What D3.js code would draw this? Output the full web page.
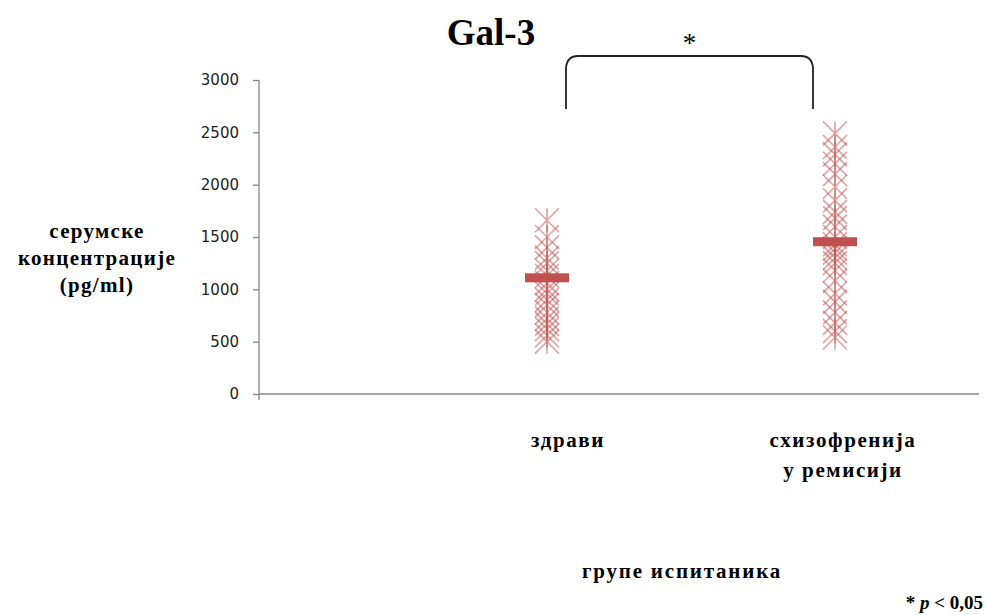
<!DOCTYPE html>
<html>
<head>
<meta charset="utf-8">
<script src="https://cdn.jsdelivr.net/npm/d3@7"></script>
<style>
  body { margin: 0; background: #fff; }
  .lbl { font-family: "Liberation Serif", "Times New Roman", serif; font-weight: bold; fill: #000; }
</style>
</head>
<body>
<div id="chart"></div>
<script>
// data
var groups = ["здрави", "схизофренија у ремисији"];
var healthy = [1660, 1500, 1400, 1300, 1250, 1180, 1130, 1060, 1000, 960, 900, 850,
               780, 720, 670, 620, 560, 500];
var schizo = [2490, 2360, 2290, 2200, 2100, 1980, 1850, 1740, 1680, 1600, 1500, 1430,
              1390, 1350, 1300, 1250, 1180, 1080, 960, 880, 780, 680, 600, 540];
var means = [1110, 1455];
var yTicks = [0, 500, 1000, 1500, 2000, 2500, 3000];

var width = 986, height = 615;

var svg = d3.select("#chart")
  .append("svg")
    .attr("width", width)
    .attr("height", height);

// scales
var x = d3.scaleLinear().domain([0, 2.5]).range([259, 979]);
var y = d3.scaleLinear().domain([0, 3000]).range([394, 80]);

// y axis
var yAxis = svg.append("g")
  .attr("transform", "translate(" + x(0) + ",0)")
  .call(d3.axisLeft(y).tickValues(yTicks).tickSize(6).tickSizeOuter(0).tickPadding(14)
        .tickFormat(d3.format("d")));
yAxis.select(".domain").remove();
yAxis.selectAll(".tick line").attr("stroke", "#868686").attr("stroke-width", 1.3);
yAxis.selectAll(".tick text")
  .attr("fill", "#222")
  .style("font-family", "DejaVu Sans, sans-serif")
  .style("font-size", "15px");

svg.append("line")
  .attr("x1", x(0)).attr("x2", x(0))
  .attr("y1", y(3000)).attr("y2", y(0) + 6)
  .attr("stroke", "#868686").attr("stroke-width", 1.3);

// x axis line
svg.append("line")
  .attr("x1", x(0)).attr("x2", x(2.5))
  .attr("y1", y(0)).attr("y2", y(0))
  .attr("stroke", "#868686").attr("stroke-width", 1.5);

// points as star markers (X plus vertical bar)
var pts = [];
healthy.forEach(function(v) { pts.push({g: 1, v: v}); });
schizo.forEach(function(v) { pts.push({g: 2, v: v}); });

var s = 12;
svg.append("g").selectAll("path")
  .data(pts)
  .enter()
  .append("path")
    .attr("d", function(d) {
      var cx = x(d.g), cy = y(d.v);
      return "M" + (cx - s) + "," + (cy - s) + "L" + (cx + s) + "," + (cy + s) +
             "M" + (cx + s) + "," + (cy - s) + "L" + (cx - s) + "," + (cy + s) +
             "M" + cx + "," + (cy - s) + "L" + cx + "," + (cy + s);
    })
    .attr("fill", "none")
    .attr("stroke", "#c0504d")
    .attr("stroke-width", 1.7)
    .attr("stroke-opacity", 0.5);

// mean bars
svg.append("g").selectAll("rect")
  .data(means)
  .enter()
  .append("rect")
    .attr("x", function(d, i) { return x(i + 1) - 22; })
    .attr("y", function(d) { return y(d) - 4.5; })
    .attr("width", 44)
    .attr("height", 9)
    .attr("fill", "#c0504d");

// significance bracket
var bx1 = x(1) + 19, bx2 = x(2) - 22, by = 56, bb = 109;
svg.append("path")
  .attr("d", "M" + bx1 + "," + bb + "L" + bx1 + "," + (by + 12) +
             "Q" + (bx1 + 1) + "," + by + " " + (bx1 + 12) + "," + by +
             "L" + (bx2 - 12) + "," + by +
             "Q" + (bx2 - 1) + "," + by + " " + bx2 + "," + (by + 12) +
             "L" + bx2 + "," + bb)
  .attr("fill", "none")
  .attr("stroke", "#222")
  .attr("stroke-width", 1.8);

svg.append("text")
  .attr("x", (bx1 + bx2) / 2).attr("y", 52)
  .attr("text-anchor", "middle")
  .style("font-family", "Liberation Serif, serif")
  .style("font-size", "27px")
  .text("*");

// title
svg.append("text")
  .attr("class", "lbl")
  .attr("x", 491).attr("y", 45)
  .attr("text-anchor", "middle")
  .style("font-size", "37px")
  .text("Gal-3");

// y axis title
var yTitle = ["серумске", "концентрације", "(pg/ml)"];
svg.append("text")
  .attr("class", "lbl")
  .attr("text-anchor", "middle")
  .style("font-size", "21px")
  .style("letter-spacing", "1.3px")
  .selectAll("tspan")
  .data(yTitle)
  .enter()
  .append("tspan")
    .attr("x", 97)
    .attr("y", function(d, i) { return 238 + i * 27; })
    .text(function(d) { return d; });

// category labels
var catLines = [["здрави"], ["схизофренија", "у ремисији"]];
var catDx = [21, 8];
catLines.forEach(function(lines, i) {
  svg.append("text")
    .attr("class", "lbl")
    .attr("text-anchor", "middle")
    .style("font-size", "21px")
    .style("letter-spacing", "1.6px")
    .selectAll("tspan")
    .data(lines)
    .enter()
    .append("tspan")
      .attr("x", x(i + 1) + catDx[i])
      .attr("y", function(d, j) { return 447 + j * 30; })
      .text(function(d) { return d; });
});

// x axis title
svg.append("text")
  .attr("class", "lbl")
  .attr("x", 682).attr("y", 578)
  .attr("text-anchor", "middle")
  .style("font-size", "21px")
  .style("letter-spacing", "1.8px")
  .text("групе испитаника");

// footnote
var foot = svg.append("text")
  .attr("class", "lbl")
  .attr("x", 983).attr("y", 609)
  .attr("text-anchor", "end")
  .style("font-size", "19px");
foot.append("tspan").text("* ");
foot.append("tspan").style("font-style", "italic").text("p");
foot.append("tspan").text(" < 0,05");
</script>
</body>
</html>
